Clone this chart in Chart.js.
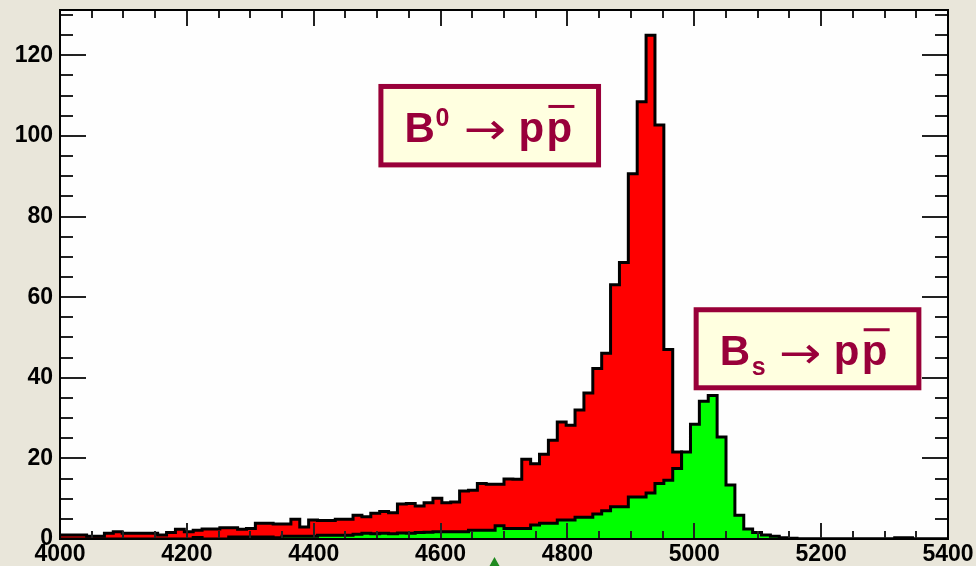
<!DOCTYPE html>
<html>
<head>
    <meta charset="utf-8" />
    <title>B -> p pbar</title>
    <script src="https://cdn.jsdelivr.net/npm/chart.js"></script>
    <style>
        html, body { margin: 0; padding: 0; background: #e9e6da; }
        #wrap { width: 976px; height: 566px; position: relative; }
    </style>
</head>
<body>
    <div id="wrap">
        <canvas id="massChart"></canvas>
    </div>

    <script>
        // histogram binning: 100 bins of 14 MeV from 4000 to 5400
        const xMin = 4000;
        const xMax = 5400;
        const binWidth = 14;

        // B0 -> p pbar (red)
        const b0Counts = [
            1.0, 1.0, 1.0, 0.7, 0.7, 1.4, 1.8, 1.4, 1.4, 1.4,
            1.4, 1.0, 1.6, 2.4, 1.8, 2.2, 2.5, 2.5, 2.8, 2.8,
            2.4, 2.6, 3.9, 3.9, 3.7, 3.7, 4.9, 3.0, 4.7, 4.6,
            4.6, 4.9, 4.9, 5.9, 5.5, 6.4, 6.8, 6.5, 8.7, 8.8,
            8.2, 9.0, 10.1, 9.0, 9.2, 11.9, 12.1, 13.8, 13.6, 13.6,
            14.9, 14.8, 19.8, 18.7, 21.0, 24.5, 29.0, 28.2, 32.0, 36.2,
            42.3, 46.1, 63.1, 68.6, 90.6, 108.5, 125.0, 102.7, 47.0, 21.6,
            15.0, 8.0, 4.0, 2.0, 1.0, 0.5, 0.2, 0, 0, 0,
            0, 0, 0, 0, 0, 0, 0, 0, 0, 0,
            0, 0, 0, 0, 0, 0, 0, 0, 0, 0
        ];

        // Bs -> p pbar (green)
        const bsCounts = [
            0, 0, 0, 0, 0, 0, 0, 0, 0, 0,
            0, 0, 0, 0, 0, 0.4, 0, 0, 0, 0.5,
            0.5, 0.5, 0.5, 0.5, 0.3, 0.7, 0.7, 0.7, 0.7, 0.9,
            0.9, 0.9, 0.9, 1.2, 1.4, 1.3, 1.4, 1.3, 1.5, 1.4,
            1.6, 1.7, 1.8, 1.8, 1.8, 1.8, 2.2, 2.2, 2.2, 3.3,
            2.6, 2.6, 2.6, 3.5, 3.9, 3.9, 4.7, 4.7, 5.4, 5.4,
            6.2, 7.0, 8.0, 8.0, 10.4, 10.4, 11.4, 13.8, 14.6, 17.5,
            21.6, 28.5, 34.2, 35.6, 25.3, 13.4, 5.9, 2.5, 1.6, 1.0,
            0.7, 0.3, 0.2, 0, 0, 0, 0, 0, 0, 0,
            0, 0, 0, 0, 0.3, 0.3, 0, 0, 0, 0
        ];

        const xTicks = [4000, 4200, 4400, 4600, 4800, 5000, 5200, 5400];
        const yTicks = [0, 20, 40, 60, 80, 100, 120];
        const yMax = 131.25;

        // turn bin contents into step points (left edges + closing right edge)
        function toSteps(counts) {
            const pts = counts.map((v, i) => ({ x: xMin + i * binWidth, y: v }));
            pts.push({ x: xMin + counts.length * binWidth, y: counts[counts.length - 1] });
            return pts;
        }

        // text boxes, corners in data units
        const labels = [
            { x0: 4502, x1: 4853, yTop: 112.9, yBot: 92.2, script: '0', up: true },
            { x0: 4999, x1: 5358, yTop: 57.5, yBot: 36.9, script: 's', up: false }
        ];

        const maroon = '#99003a';

        function drawLabel(ctx, chart, lab) {
            const xs = chart.scales.x, ys = chart.scales.y;
            const l = xs.getPixelForValue(lab.x0), r = xs.getPixelForValue(lab.x1);
            const t = ys.getPixelForValue(lab.yTop), b = ys.getPixelForValue(lab.yBot);
            ctx.save();
            ctx.fillStyle = '#ffffe0';
            ctx.fillRect(l, t, r - l, b - t);
            ctx.strokeStyle = maroon;
            ctx.lineWidth = 5;
            ctx.strokeRect(l + 2.5, t + 2.5, r - l - 5, b - t - 5);

            const base = t + 58;
            ctx.fillStyle = maroon;
            ctx.textBaseline = 'alphabetic';
            ctx.textAlign = 'left';
            ctx.font = 'bold 42px "Liberation Sans", Arial, sans-serif';
            ctx.fillText('B', l + 26, base);
            ctx.font = 'bold 25px "Liberation Sans", Arial, sans-serif';
            if (lab.up) {
                ctx.fillText(lab.script, l + 57, base - 16);
            } else {
                ctx.fillText(lab.script, l + 58, base + 10);
            }
            ctx.font = '44px "DejaVu Sans", sans-serif';
            ctx.save();
            ctx.translate(l + 85, base - 9);
            ctx.scale(1.15, 1);
            ctx.textBaseline = 'middle';
            ctx.fillText('\u2192', 0, 0);
            ctx.restore();
            ctx.font = 'bold 42px "Liberation Sans", Arial, sans-serif';
            ctx.fillText('p', l + 140, base);
            ctx.fillText('p', l + 168, base);
            // bar over the second p
            ctx.fillRect(l + 170, t + 21, 26, 3);
            ctx.restore();
        }

        const rootFrame = {
            id: 'rootFrame',
            beforeDraw(chart) {
                const { ctx, chartArea: a } = chart;
                ctx.save();
                ctx.fillStyle = '#e9e6da';
                ctx.fillRect(0, 0, chart.width, chart.height);
                ctx.fillStyle = '#fefefe';
                ctx.fillRect(a.left, a.top, a.right - a.left, a.bottom - a.top);
                ctx.restore();
            },
            afterDatasetsDraw(chart) {
                const { ctx, chartArea: a } = chart;
                const xs = chart.scales.x, ys = chart.scales.y;
                ctx.save();
                ctx.strokeStyle = '#222';
                ctx.lineWidth = 2;
                ctx.beginPath();
                for (let v = xMin; v <= xMax; v += 50) {
                    const px = Math.round(xs.getPixelForValue(v));
                    const len = (v % 200 === 0) ? 16 : 8;
                    ctx.moveTo(px, a.bottom); ctx.lineTo(px, a.bottom - len);
                    ctx.moveTo(px, a.top); ctx.lineTo(px, a.top + len);
                }
                for (let v = 0; v <= yMax; v += 5) {
                    const py = Math.round(ys.getPixelForValue(v));
                    const len = (v % 20 === 0) ? 26 : 13;
                    ctx.moveTo(a.left, py); ctx.lineTo(a.left + len, py);
                    ctx.moveTo(a.right, py); ctx.lineTo(a.right - len, py);
                }
                ctx.stroke();
                ctx.strokeStyle = '#000';
                ctx.lineWidth = 2;
                ctx.strokeRect(a.left, a.top, a.right - a.left, a.bottom - a.top);
                ctx.restore();
            },
            afterDraw(chart) {
                const ctx = chart.ctx;
                labels.forEach(lab => drawLabel(ctx, chart, lab));
                // little green marker peeking in under the axis
                const mx = chart.scales.x.getPixelForValue(4685);
                ctx.save();
                ctx.fillStyle = '#1f8a1f';
                ctx.beginPath();
                ctx.moveTo(mx, chart.height - 9);
                ctx.lineTo(mx - 5, chart.height);
                ctx.lineTo(mx + 5, chart.height);
                ctx.closePath();
                ctx.fill();
                ctx.restore();
            }
        };

        const tickFont = { family: '"Liberation Sans", Arial, sans-serif', size: 23, weight: 'bold' };

        const ctx = document.getElementById('massChart').getContext('2d');
        const massChart = new Chart(ctx, {
            type: 'line',
            data: {
                datasets: [
                    {
                        label: 'Bs -> p pbar',
                        data: toSteps(bsCounts),
                        stepped: 'before',
                        borderColor: '#000',
                        borderWidth: 3,
                        backgroundColor: '#00ff00',
                        fill: 'origin',
                        pointRadius: 0,
                        order: 1
                    },
                    {
                        label: 'B0 -> p pbar',
                        data: toSteps(b0Counts),
                        stepped: 'before',
                        borderColor: '#000',
                        borderWidth: 3,
                        backgroundColor: '#ff0000',
                        fill: 'origin',
                        pointRadius: 0,
                        order: 2
                    }
                ]
            },
            options: {
                responsive: true,
                maintainAspectRatio: false,
                animation: false,
                layout: { padding: { top: 10, right: 28, left: 0, bottom: 0 } },
                plugins: {
                    legend: { display: false },
                    tooltip: { enabled: false }
                },
                scales: {
                    x: {
                        type: 'linear',
                        min: xMin,
                        max: xMax,
                        grid: { display: false, drawTicks: false },
                        border: { display: false },
                        afterBuildTicks: s => { s.ticks = xTicks.map(v => ({ value: v })); },
                        afterFit: s => {
                            s.height = 27;
                            s.paddingLeft = 0; s.paddingRight = 0;
                        },
                        ticks: {
                            autoSkip: false,
                            maxRotation: 0,
                            padding: 2,
                            color: '#000',
                            font: tickFont,
                            callback: v => String(v)
                        }
                    },
                    y: {
                        min: 0,
                        max: yMax,
                        grid: { display: false, drawTicks: false },
                        border: { display: false },
                        afterBuildTicks: s => { s.ticks = yTicks.map(v => ({ value: v })); },
                        afterFit: s => {
                            s.width = 60;
                            s.paddingTop = 0; s.paddingBottom = 0;
                        },
                        ticks: {
                            autoSkip: false,
                            padding: 7,
                            color: '#000',
                            font: tickFont,
                            callback: v => String(v)
                        }
                    }
                }
            },
            plugins: [rootFrame]
        });
    </script>
</body>
</html>
